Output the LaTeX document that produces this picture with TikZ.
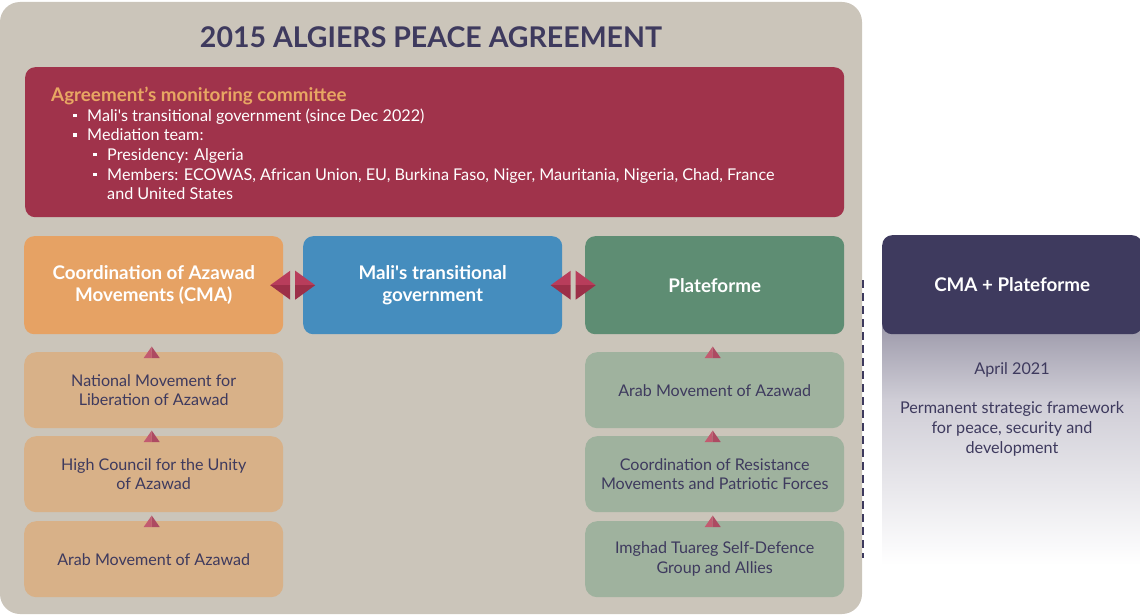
\documentclass[tikz,border=0pt]{standalone}
\usepackage{fontspec}
\setmainfont{Lato}
\usetikzlibrary{calc}

\definecolor{panel}{HTML}{CBC5BA}
\definecolor{navy}{HTML}{3E3A5E}
\definecolor{wine}{HTML}{A0334B}
\definecolor{amber}{HTML}{E8A763}
\definecolor{cmaorange}{HTML}{E6A264}
\definecolor{maliblue}{HTML}{458DBE}
\definecolor{platgreen}{HTML}{5E8D73}
\definecolor{cmalight}{HTML}{D8B188}
\definecolor{platlight}{HTML}{9FB29E}
\definecolor{arrowtop}{HTML}{B83D5B}
\definecolor{arrowbot}{HTML}{9C2F48}
\definecolor{tipleft}{HTML}{C25B70}
\definecolor{tipright}{HTML}{AD4A62}
\definecolor{fadetop}{HTML}{9A97A8}
\definecolor{fademid}{HTML}{CFCDD6}

\newcommand\sqbullet{\rule[0.25em]{3.4pt}{3.4pt}}
\newcommand\apos{\textquotesingle}

\tikzset{
  mainbox/.style={rounded corners=10pt, minimum width=259pt, minimum height=98pt,
    inner sep=0pt, align=center, text=white, anchor=north west,
    font=\bfseries\fontsize{18.8}{22.5}\selectfont},
  subbox/.style={rounded corners=12pt, minimum width=259pt, minimum height=76pt,
    inner sep=0pt, align=center, text=navy, anchor=north west,
    font=\fontsize{16.1}{19.8}\selectfont},
  plaintext/.style={inner sep=0pt, text=navy, align=center,
    font=\fontsize{16.2}{19.6}\selectfont},
}

% double-headed diamond link centred between two boxes
\newcommand\duallink[2]{%
  \coordinate (m) at ($(#1.east)!0.5!(#2.west)$);
  \fill[arrowtop] ($(m)+(-23,0)$) -- ($(m)+(-3,-14.5)$) -- ($(m)+(-3,0)$) -- cycle;
  \fill[arrowbot] ($(m)+(-23,0)$) -- ($(m)+(-3,14.5)$) -- ($(m)+(-3,0)$) -- cycle;
  \fill[arrowtop] ($(m)+(22,0)$) -- ($(m)+(2,-14.5)$) -- ($(m)+(2,0)$) -- cycle;
  \fill[arrowbot] ($(m)+(22,0)$) -- ($(m)+(2,14.5)$) -- ($(m)+(2,0)$) -- cycle;
}
% small upward tip sitting on the top edge of the lower box
\newcommand\uptip[1]{%
  \fill[tipleft]  ($(#1.north)+(-10,6)$) -- ($(#1.north)+(-2,-5.5)$) -- ($(#1.north)+(-2,6)$) -- cycle;
  \fill[tipright] ($(#1.north)+(6,6)$) -- ($(#1.north)+(-2,-5.5)$) -- ($(#1.north)+(-2,6)$) -- cycle;
}

\begin{document}
\begin{tikzpicture}[x=1pt,y=-1pt]
\useasboundingbox (0,0) rectangle (1140,615);

% background panel of the agreement
\fill[panel, rounded corners=20pt] (0,2) rectangle (862,614);
\node[text=navy, font=\bfseries\fontsize{28.5}{32}\selectfont, inner sep=0pt]
  (title) at (431,37) {2015 ALGIERS PEACE AGREEMENT};

% monitoring committee
\node[fill=wine, rounded corners=10pt, minimum width=819pt, minimum height=150pt,
  anchor=north west, inner sep=0pt] (committee) at (25,67) {};
\node[anchor=base west, inner sep=0pt, text=amber,
  font=\bfseries\fontsize{18.8}{22}\selectfont] (comhead) at (51,101.5)
  {Agreement’s monitoring committee};
\node[anchor=north west, inner sep=0pt, align=left, text=white,
  font=\fontsize{16.2}{19.6}\selectfont] (comlist) at (51,108.5)
  {\hspace*{22pt}\makebox[14pt][l]{\sqbullet}Mali\apos s transitional government (since Dec 2022)\\
   \hspace*{22pt}\makebox[14pt][l]{\sqbullet}Mediation team:\\
   \hspace*{42pt}\makebox[14pt][l]{\sqbullet}Presidency: Algeria\\
   \hspace*{42pt}\makebox[14pt][l]{\sqbullet}Members: ECOWAS, African Union, EU, Burkina Faso, Niger, Mauritania, Nigeria, Chad, France\\
   \hspace*{56pt}and United States};

% the three parties
\node[mainbox, fill=cmaorange] (cma) at (24,236) {\rule{0pt}{4pt}Coordination of Azawad\\Movements (CMA)};
\node[mainbox, fill=maliblue]  (mali) at (303,236) {\rule{0pt}{4pt}Mali\apos s transitional\\government};
\node[mainbox, fill=platgreen] (plat) at (585,236) {Plateforme};

% member movements
\node[subbox, fill=cmalight] (mnla) at (24,352) {National Movement for\\Liberation of Azawad};
\node[subbox, fill=cmalight] (hcua) at (24,436) {High Council for the Unity\\of Azawad};
\node[subbox, fill=cmalight] (maal) at (24,521) {Arab Movement of Azawad};

\node[subbox, fill=platlight] (maap) at (585,352) {Arab Movement of Azawad};
\node[subbox, fill=platlight] (cmfpr) at (585,436) {Coordination of Resistance\\Movements and Patriotic Forces};
\node[subbox, fill=platlight] (gatia) at (585,521) {Imghad Tuareg Self-Defence\\Group and Allies};

% links between parties
\duallink{cma}{mali}
\duallink{mali}{plat}

% membership tips
\uptip{mnla}
\uptip{hcua}
\uptip{maal}
\uptip{maap}
\uptip{cmfpr}
\uptip{gatia}

% joint framework
\shade[top color=fadetop, bottom color=fademid] (882,320) rectangle (1140,400);
\shade[top color=fademid, bottom color=white] (882,399.5) rectangle (1140,565);
\node[fill=navy, rounded corners=10pt, minimum width=260pt, minimum height=99pt,
  anchor=north west, inner sep=0pt, text=white,
  font=\bfseries\fontsize{18.8}{22}\selectfont] (joint) at (882,235) {CMA + Plateforme};
\node[plaintext] (date) at (1012,370) {April 2021};
\node[plaintext] (frame) at (1012,429) {Permanent strategic framework\\for peace, security and\\development};

% dashed tie along the panel edge
\coordinate (dtop) at (863,280);
\coordinate (dbot) at (863,558);
\draw[navy, line width=2.2pt, dash pattern=on 8pt off 5pt] (dtop) -- (dbot);
\end{tikzpicture}
\end{document}
